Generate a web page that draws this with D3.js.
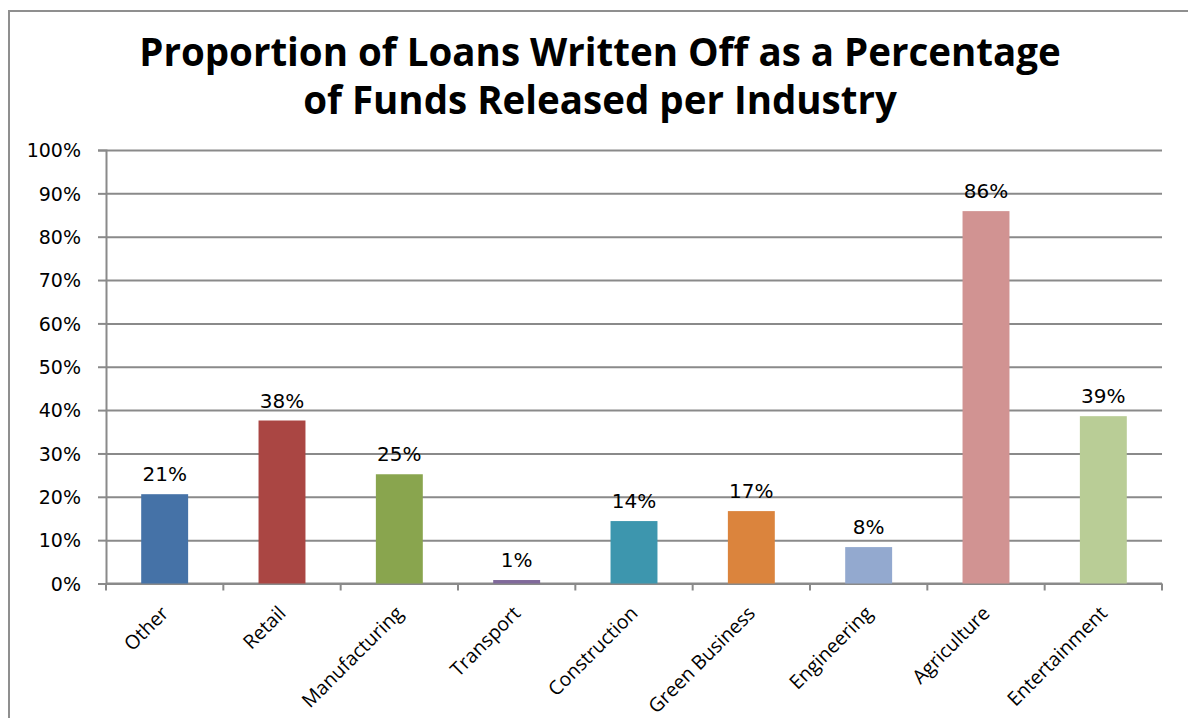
<!DOCTYPE html>
<html>
<head>
<meta charset="utf-8">
<script src="https://cdn.jsdelivr.net/npm/d3@7"></script>
<style>
  html, body { margin: 0; padding: 0; background: #fff; }
  svg { display: block; }
</style>
</head>
<body>
<svg id="chart" width="1188" height="718"></svg>
<script>
// Industries along the x axis
const categories = ["Other", "Retail", "Manufacturing", "Transport", "Construction",
                    "Green Business", "Engineering", "Agriculture", "Entertainment"];
// Share of released funds later written off (fraction)
const writtenOff = [0.206, 0.376, 0.252, 0.008, 0.144, 0.167, 0.084, 0.859, 0.386];
// One fill per industry
const barColors = ["#4572A7", "#AA4643", "#89A54E", "#80699B", "#3D96AE",
                   "#DB843D", "#93A9CF", "#D19392", "#B9CD96"];
// Y axis ticks
const yTicks = [0, 0.1, 0.2, 0.3, 0.4, 0.5, 0.6, 0.7, 0.8, 0.9, 1.0];
const titleLines = ["Proportion of Loans Written Off as a Percentage",
                    "of Funds Released per Industry"];

const svg = d3.select("#chart");
const titleFont = "'Open Sans', 'DejaVu Sans', sans-serif";
const font = "'DejaVu Sans', 'Open Sans', sans-serif";
const gridColor = "#8a8a8a";

// Chart frame (continues past the right and bottom edges)
svg.append("path")
  .attr("d", "M9,1000 L9,11 L1300,11")
  .attr("fill", "none")
  .attr("stroke", "#8f8f8f")
  .attr("stroke-width", 2);

// Title
svg.append("g").selectAll("text")
  .data(titleLines)
  .join("text")
  .attr("x", 600)
  .attr("y", (d, i) => 66 + i * 48)
  .attr("text-anchor", "middle")
  .attr("font-family", titleFont)
  .attr("font-weight", "bold")
  .attr("font-size", 38.5)
  .attr("fill", "#000")
  .text(d => d);

const plot = { left: 106, right: 1162, top: 150, bottom: 583.5 };

const x = d3.scaleBand()
  .domain(categories)
  .range([plot.left, plot.right])
  .paddingInner(0.6)
  .paddingOuter(0.3);

const y = d3.scaleLinear()
  .domain([0, 1])
  .range([plot.bottom, plot.top]);

const pct = d3.format(".0%");

// Horizontal gridlines with short outward ticks
const yAxis = d3.axisLeft(y)
  .tickValues(yTicks)
  .tickFormat(pct)
  .tickSize(8)
  .tickPadding(17);

const gy = svg.append("g")
  .attr("transform", `translate(${plot.left},0)`)
  .call(yAxis);
gy.select(".domain").attr("stroke", gridColor).attr("stroke-width", 2);
gy.selectAll(".tick line").attr("stroke", gridColor).attr("stroke-width", 2);
gy.selectAll(".tick").append("line")
  .attr("x1", 0)
  .attr("x2", plot.right - plot.left)
  .attr("stroke", gridColor)
  .attr("stroke-width", 2);
gy.selectAll(".tick text")
  .attr("font-family", font)
  .attr("font-size", 19)
  .attr("fill", "#000")
  .attr("dy", "0.36em");

// Category axis: ticks sit between the bars
const boundaries = d3.range(categories.length + 1)
  .map(i => plot.left + i * (plot.right - plot.left) / categories.length);
const gx = svg.append("g");
gx.append("line")
  .attr("x1", plot.left).attr("x2", plot.right)
  .attr("y1", plot.bottom).attr("y2", plot.bottom)
  .attr("stroke", gridColor).attr("stroke-width", 2);
gx.selectAll("line.tk")
  .data(boundaries)
  .join("line")
  .attr("class", "tk")
  .attr("x1", d => d).attr("x2", d => d)
  .attr("y1", plot.bottom).attr("y2", plot.bottom + 7)
  .attr("stroke", gridColor).attr("stroke-width", 2);

// Bars
svg.append("g").selectAll("rect")
  .data(categories)
  .join("rect")
  .attr("x", d => x(d))
  .attr("width", x.bandwidth())
  .attr("y", (d, i) => y(writtenOff[i]))
  .attr("height", (d, i) => y(0) - y(writtenOff[i]))
  .attr("fill", (d, i) => barColors[i]);

// Value labels above bars
svg.append("g").selectAll("text")
  .data(categories)
  .join("text")
  .attr("x", d => x(d) + x.bandwidth() / 2)
  .attr("y", (d, i) => y(writtenOff[i]) - 13)
  .attr("text-anchor", "middle")
  .attr("font-family", font)
  .attr("font-size", 20)
  .attr("fill", "#000")
  .text((d, i) => pct(writtenOff[i]));

// Rotated category labels
svg.append("g").selectAll("text")
  .data(categories)
  .join("text")
  .attr("transform", d => `translate(${x(d) + x.bandwidth() / 2 + 5},${plot.bottom + 31}) rotate(-45)`)
  .attr("text-anchor", "end")
  .attr("font-family", titleFont)
  .attr("font-size", 19.5)
  .attr("fill", "#000")
  .text(d => d);
</script>
</body>
</html>
